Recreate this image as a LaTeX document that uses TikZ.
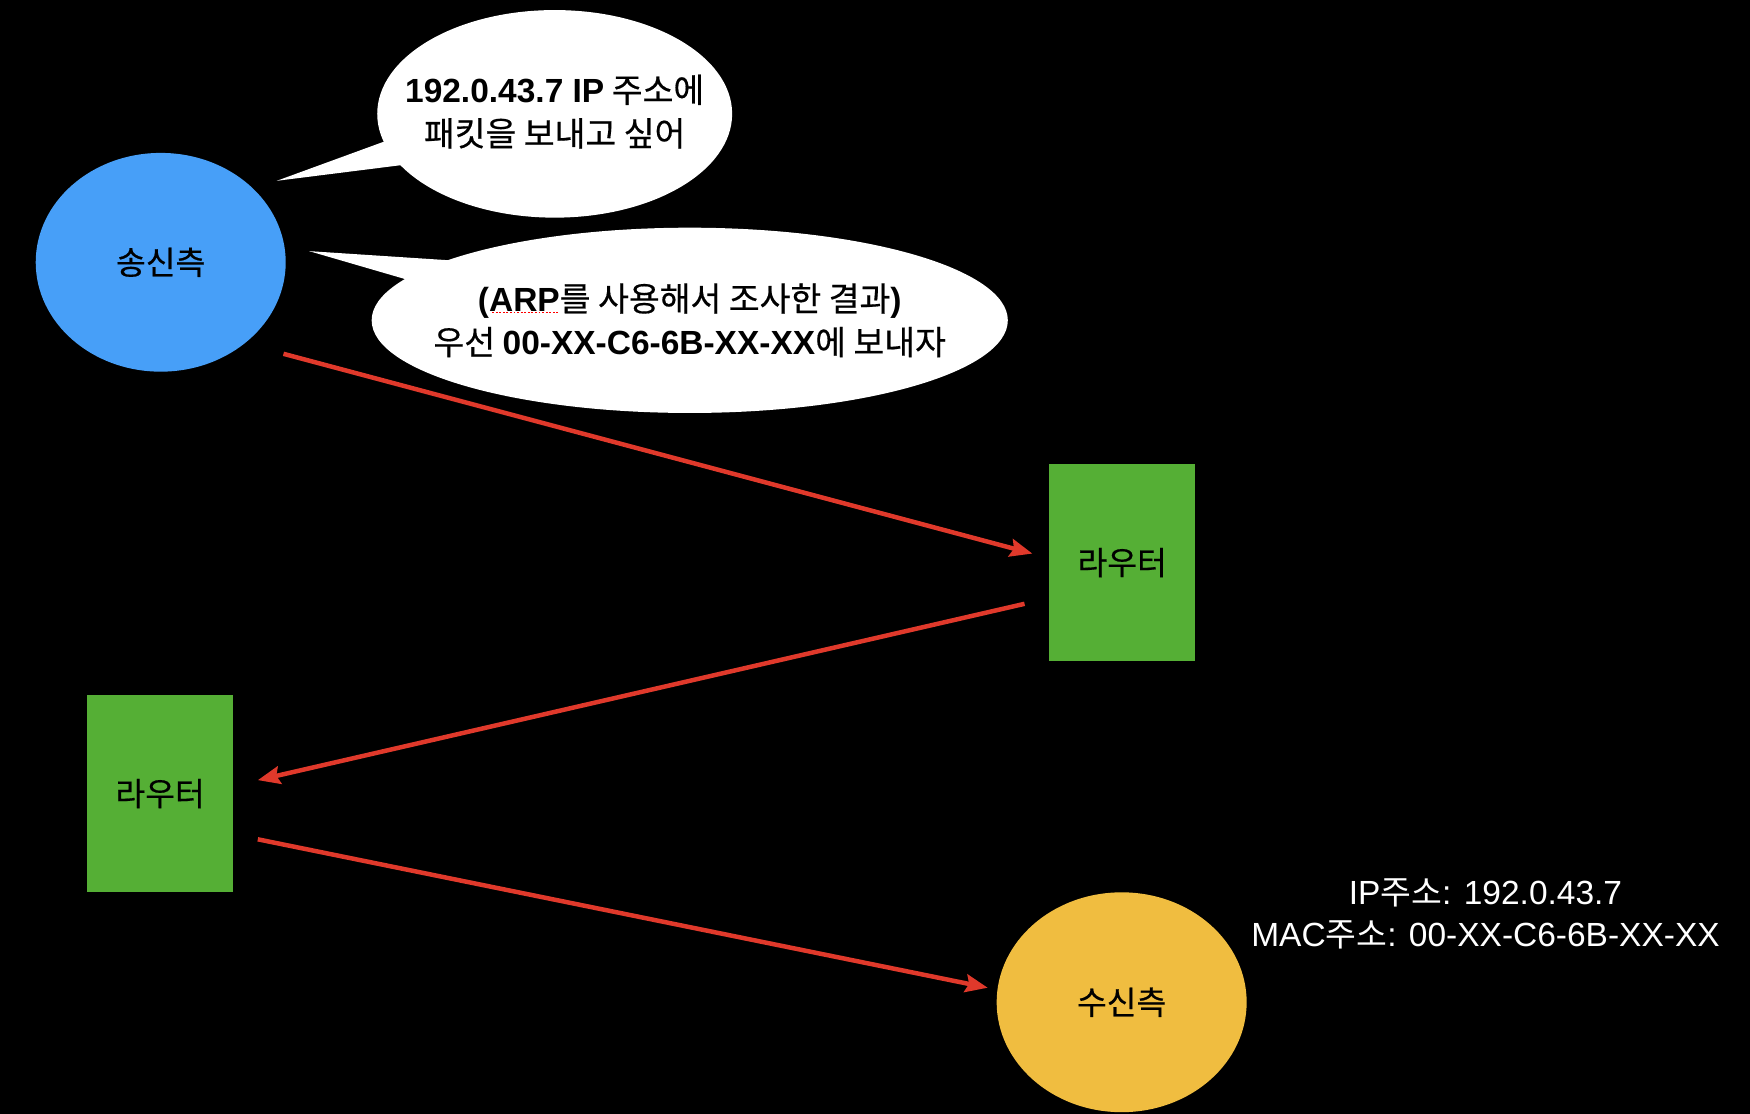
\documentclass[tikz,border=0pt]{standalone}
\usepackage{fontspec}
\setmainfont{Liberation Sans}
\newfontfamily\kr{Noto Sans CJK KR}[FakeBold=0.5]
\newfontfamily\krw{Noto Sans CJK KR}
\newcommand{\Lb}[1]{{\fontspec{Liberation Sans}\bfseries #1}}
\usetikzlibrary{shapes.geometric,arrows.meta,calc}
\definecolor{sendblue}{HTML}{479FF8}
\definecolor{routgreen}{HTML}{55AF35}
\definecolor{recvyel}{HTML}{F0BD40}
\definecolor{arrred}{HTML}{E0392B}
\tikzset{
  bubble/.style={ellipse, fill=white, inner sep=0pt},
  bubbletext/.style={align=center, font=\kr\fontsize{15}{19.5}\selectfont},
  hostnode/.style={ellipse, inner sep=0pt, minimum width=112pt, minimum height=98pt, font=\kr\fontsize{14.5}{16}\selectfont},
  routerbox/.style={rectangle, fill=routgreen, inner sep=0pt, minimum width=65.5pt, minimum height=88pt, font=\kr\fontsize{14.5}{16}\selectfont},
  flow/.style={draw=arrred, line width=2pt, -{Stealth[length=10pt,width=8pt,inset=1.5pt]}},
}
\begin{document}
\begin{tikzpicture}[x=0.5pt,y=-0.5pt]
\fill[black] (0,0) rectangle (1568,998);
\useasboundingbox (0,0) rectangle (1568,998);
% speech bubbles
\node[bubble, minimum width=159pt, minimum height=93pt] (b1) at (497,102) {};
\fill[white] ($(b1.center)+(-145,22)$) -- ($(b1.center)+(-249,60)$) -- ($(b1.center)+(-122,44)$) -- cycle;
\node[bubbletext] (t1) at (497,100) {\Lb{192.0.43.7 IP} 주소에\\ 패킷을 보내고 싶어};
\node[bubble, minimum width=285pt, minimum height=83pt] (b2) at (618,287) {};
\fill[white] ($(b2.center)+(-188,-52)$) -- ($(b2.center)+(-341,-62)$) -- ($(b2.center)+(-238,-32)$) -- cycle;
\node[bubbletext] (t2) at (618,287) {\Lb{(ARP}를 사용해서 조사한 결과\Lb{)}\\ 우선 \Lb{00-XX-C6-6B-XX-XX}에 보내자};
\draw[red, line width=0.8pt, dash pattern=on 0.8pt off 0.8pt] (441,280) -- (501,280);
% hosts
\node[hostnode, fill=sendblue] (snd) at (144,235) {송신측};
\node[hostnode, fill=recvyel, minimum height=98.5pt] (rcv) at (1005,898) {수신측};
% routers
\node[routerbox] (r1) at (1005.5,504) {라우터};
\node[routerbox] (r2) at (143.5,711) {라우터};
% address label
\node[align=center, text=white, font=\krw\fontsize{15}{19}\selectfont] (addr) at (1331,819) {\fontspec{Liberation Sans}IP{\krw 주소}: 192.0.43.7\\ \fontspec{Liberation Sans}MAC{\krw 주소}: 00-XX-C6-6B-XX-XX};
% connectors
\draw[flow] ($(snd.center)+(110,82)$) -- ($(r1.center)+(-80.5,-8)$);
\draw[flow] ($(r1.center)+(-87.5,37)$) -- ($(r2.center)+(87.5,-12)$);
\draw[flow] ($(r2.center)+(87.5,41)$) -- ($(rcv.center)+(-120,-13)$);
\end{tikzpicture}
\end{document}
